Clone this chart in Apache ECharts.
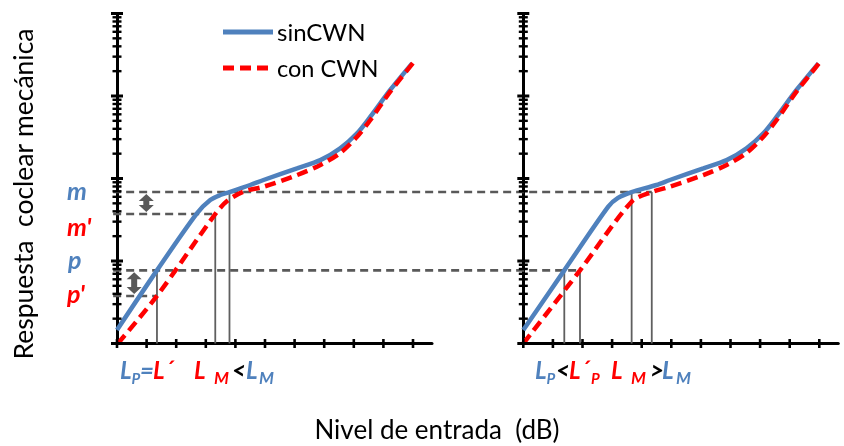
<!DOCTYPE html>
<html>
<head>
<meta charset="utf-8">
<script src="https://cdn.jsdelivr.net/npm/echarts@6/dist/echarts.min.js"></script>
<style>
  html, body { margin: 0; padding: 0; background: #fff; }
  #chart { width: 844px; height: 446px; }
</style>
</head>
<body>
<div id="chart"></div>
<script>
// Cochlear input/output functions without (sinCWN) and with (con CWN) contralateral noise.
// x: input level (arbitrary dB steps), y: mechanical response (log scale).

const levelTicks = [0, 1, 2, 3, 4, 5, 6, 7, 8, 9, 10];
const responseTicks = [1, 2, 3, 4, 5, 6, 7, 8, 9,
  10, 20, 30, 40, 50, 60, 70, 80, 90,
  100, 200, 300, 400, 500, 600, 700, 800, 900,
  1000, 2000, 3000, 4000, 5000, 6000, 7000, 8000, 9000, 10000];
const responseDecades = [1, 10, 100, 1000, 10000];
const seriesNames = ['sinCWN', 'con CWN'];

// Panel A (left)
const levelA_sin = [0, 1.35, 2.70, 3.15, 3.49, 3.80, 4.50, 4.95, 6.08, 6.87, 7.54, 8.11, 8.56, 9.23, 9.97];
const respA_sin  = [1.46, 7.7, 37.8, 54.8, 63.1, 68.5, 83.4, 95.9, 133, 167, 232, 353, 561, 1183, 2489];
const levelA_con = [0.03, 1.35, 3.32, 3.72, 4.27, 4.95, 6.08, 6.87, 7.54, 8.11, 8.56, 9.23, 10.01];
const respA_con  = [1.0, 3.77, 37.1, 53.3, 69.2, 79.4, 110, 146, 204, 321, 512, 1127, 2535];

// Panel B (right)
const levelB_sin = [0, 1.385, 2.87, 3.20, 3.66, 4.50, 4.95, 6.08, 6.87, 7.54, 8.11, 8.56, 9.23, 9.97];
const respB_sin  = [1.46, 7.7, 45.5, 58.1, 68.5, 83.4, 95.9, 133, 167, 232, 353, 561, 1183, 2489];
const levelB_con = [0, 1.915, 3.66, 4.34, 4.95, 6.08, 6.87, 7.54, 8.11, 8.56, 9.23, 10.01];
const respB_con  = [1.0, 7.7, 52.4, 68.5, 79.4, 110, 146, 204, 321, 512, 1127, 2535];

// Response levels marked on the vertical axis
const levelM = 68.5, levelMPrime = 37.1, levelP = 7.7, levelPPrime = 3.77;

// Input levels where each curve reaches those responses
const marksA = { Lp: 1.35, LpPrime: 1.35, LM: 3.80, LMPrime: 3.32 };
const marksB = { Lp: 1.385, LpPrime: 1.915, LM: 3.66, LMPrime: 4.34 };

const BLUE = '#4F81BD', RED = '#FF0000', GRAY = '#595959';
const FONT = 'Lato, "Liberation Sans", sans-serif';
const STEP = 29.6; // pixels per level unit

const zip = (xs, ys) => xs.map((x, i) => [x, ys[i]]);

const chart = echarts.init(document.getElementById('chart'), null, { renderer: 'canvas' });

const gridW = 315;
const grids = [
  { left: 117, top: 13.5, width: gridW, height: 330 },
  { left: 523.3, top: 13.5, width: gridW, height: 330 }
];

const axisX = i => ({
  type: 'value', gridIndex: i, min: 0, max: gridW / STEP,
  axisLine: { show: true, onZero: false, lineStyle: { color: '#000', width: 3 } },
  axisTick: { show: false }, axisLabel: { show: false }, splitLine: { show: false }
});
const axisY = i => ({
  type: 'log', logBase: 10, gridIndex: i, min: 1, max: 10000,
  axisLine: { show: true, lineStyle: { color: '#000', width: 3 } },
  axisTick: { show: false }, axisLabel: { show: false }, splitLine: { show: false }
});

const sinStyle = { color: BLUE, width: 4.5 };
const conStyle = { color: RED, width: 4.5, type: [11, 6] };

const curve = (name, gi, data, lineStyle, z) => ({
  type: 'line', name, xAxisIndex: gi, yAxisIndex: gi, data,
  symbol: 'none', smooth: 0.3, clip: false,
  lineStyle, itemStyle: { color: lineStyle.color }, z
});

chart.setOption({
  animation: false,
  grid: grids,
  xAxis: [axisX(0), axisX(1)],
  yAxis: [axisY(0), axisY(1)],
  series: [
    curve(seriesNames[0], 0, zip(levelA_sin, respA_sin), sinStyle, 3),
    curve(seriesNames[1], 0, zip(levelA_con, respA_con), conStyle, 4),
    curve(seriesNames[0], 1, zip(levelB_sin, respB_sin), sinStyle, 3),
    curve(seriesNames[1], 1, zip(levelB_con, respB_con), conStyle, 4)
  ]
});

// Annotations placed through the axes' own coordinate conversion
function buildGraphics() {
  const els = [];
  const P = (g, x, y) => chart.convertToPixel({ xAxisIndex: g, yAxisIndex: g }, [x, y]);
  const seg = (a, b, style, z) => els.push({
    type: 'line', silent: true, z,
    shape: { x1: a[0], y1: a[1], x2: b[0], y2: b[1] }, style
  });

  const dashStyle = { stroke: GRAY, lineWidth: 2.6, lineDash: [8, 5] };
  const guideStyle = { stroke: '#5f5f5f', lineWidth: 1.8 };
  const x0 = -0.13;

  // horizontal guides
  seg(P(0, x0, levelM), P(1, marksB.LMPrime, levelM), dashStyle, 1);
  seg(P(0, x0, levelMPrime), P(0, marksA.LMPrime, levelMPrime), dashStyle, 1);
  seg(P(0, x0, levelP), P(1, marksB.LpPrime, levelP), dashStyle, 1);
  seg(P(0, x0, levelPPrime), P(0, marksA.Lp, levelPPrime), dashStyle, 1);

  // vertical drop lines
  seg(P(0, marksA.Lp, levelP), P(0, marksA.Lp, 1), guideStyle, 1);
  seg(P(0, marksA.LMPrime, levelMPrime), P(0, marksA.LMPrime, 1), guideStyle, 1);
  seg(P(0, marksA.LM, levelM), P(0, marksA.LM, 1), guideStyle, 1);
  seg(P(1, marksB.Lp, levelP), P(1, marksB.Lp, 1), guideStyle, 1);
  seg(P(1, marksB.LpPrime, levelP), P(1, marksB.LpPrime, 1), guideStyle, 1);
  seg(P(1, marksB.LM, levelM), P(1, marksB.LM, 1), guideStyle, 1);
  seg(P(1, marksB.LMPrime, levelM), P(1, marksB.LMPrime, 1), guideStyle, 1);

  // double-headed arrows showing the response drop
  const arrow = (g, x, hi, lo) => {
    const a = P(g, x, hi), b = P(g, x, lo);
    const cx = a[0], yt = a[1] + 2, yb = b[1] - 2;
    const h = 7, hw = 7.5, sw = 3;
    els.push({
      type: 'polygon', silent: true, z: 2,
      shape: { points: [
        [cx, yt], [cx + hw, yt + h], [cx + sw, yt + h], [cx + sw, yb - h], [cx + hw, yb - h],
        [cx, yb], [cx - hw, yb - h], [cx - sw, yb - h], [cx - sw, yt + h], [cx - hw, yt + h]
      ] },
      style: { fill: GRAY }
    });
  };
  arrow(0, 0.99, levelM, levelMPrime);
  arrow(0, 0.58, levelP, levelPPrime);

  // axis ticks crossing the axis lines
  [0, 1].forEach(g => {
    responseTicks.forEach(v => {
      const c = P(g, 0, v);
      const major = responseDecades.indexOf(v) >= 0;
      const half = major ? 6 : 4.5;
      seg([c[0] - half, c[1]], [c[0] + half, c[1]], { stroke: '#000', lineWidth: major ? 3 : 2.4 }, 6);
    });
    levelTicks.forEach(v => {
      const c = P(g, v, 1);
      seg([c[0], c[1] - 4.5], [c[0], c[1] + 4.5], { stroke: '#000', lineWidth: 2.6 }, 6);
    });
  });

  // text helper
  const txt = (text, x, y, size, color, plain) => els.push({
    type: 'text', silent: true, z: 7,
    style: {
      text, x, y, fill: color,
      font: (plain ? '' : 'italic bold ') + size + 'px ' + FONT,
      textAlign: 'left', textVerticalAlign: 'middle'
    }
  });

  // legend
  seg([223, 32], [273, 32], { stroke: BLUE, lineWidth: 5 }, 7);
  seg([223, 68], [273, 68], { stroke: RED, lineWidth: 5, lineDash: [11, 6] }, 7);
  txt(seriesNames[0], 277, 33, 24, '#000', true);
  txt(seriesNames[1], 277, 69, 23.5, '#000', true);

  // level names beside the left axis
  txt('m', 67, 191.5, 25, BLUE);
  txt("m'", 67, 227.5, 25, RED);
  txt('p', 68, 260.5, 25, BLUE);
  txt("p'", 67, 294.5, 25, RED);

  // threshold relations under each panel
  const big = 24, sub = 15, yb = 371, ys = 379;
  txt('L', 120, yb, big, BLUE);
  txt('P', 131.5, ys, sub, BLUE);
  txt('=', 140, yb, big, BLUE);
  txt('L\u00B4', 153, yb, big, RED);
  txt('L', 194, yb, big, RED);
  txt('M', 214, ys, 17, RED);
  txt('<', 232, yb, big, '#000');
  txt('L', 246, yb, big, BLUE);
  txt('M', 259, ys, 17, BLUE);

  txt('L', 535, yb, big, BLUE);
  txt('P', 546.5, ys, sub, BLUE);
  txt('<', 556, yb, big, '#000');
  txt('L\u00B4', 569, yb, big, RED);
  txt('P', 591, ys, sub, RED);
  txt('L', 611, yb, big, RED);
  txt('M', 631, ys, 17, RED);
  txt('>', 650, yb, big, '#000');
  txt('L', 662, yb, big, BLUE);
  txt('M', 676, ys, 17, BLUE);

  // axis titles
  els.push({
    type: 'text', silent: true, z: 7, x: 24, y: 194, rotation: Math.PI / 2,
    style: { text: 'Respuesta  coclear mec\u00E1nica', x: 0, y: 0, fill: '#000',
      font: '26.5px ' + FONT, textAlign: 'center', textVerticalAlign: 'middle' }
  });
  els.push({
    type: 'text', silent: true, z: 7,
    style: { text: 'Nivel de entrada  (dB)', x: 437, y: 431, fill: '#000',
      font: '26px ' + FONT, textAlign: 'center', textVerticalAlign: 'middle' }
  });
  return els;
}

chart.setOption({ graphic: buildGraphics() });
</script>
</body>
</html>
